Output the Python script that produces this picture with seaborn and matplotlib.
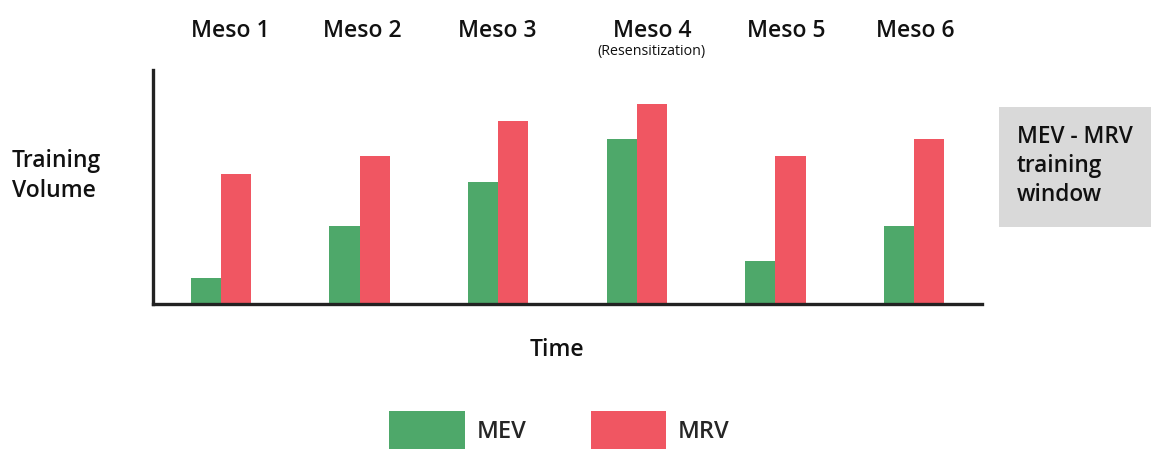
import matplotlib
matplotlib.use("Agg")
import matplotlib.pyplot as plt
from matplotlib.patches import Rectangle
import seaborn as sns
import pandas as pd

# Training volume per mesocycle (arbitrary units)
mesocycles = ["Meso 1", "Meso 2", "Meso 3", "Meso 4", "Meso 5", "Meso 6"]
mev = [1.5, 4.5, 7.0, 9.5, 2.5, 4.5]
mrv = [7.5, 8.5, 10.5, 11.5, 8.5, 9.5]
series_names = ["MEV", "MRV"]
subtitles = {"Meso 4": "(Resensitization)"}

colors = {"MEV": "#4ea86a", "MRV": "#f05662"}

df = pd.DataFrame({
    "meso": mesocycles * 2,
    "series": ["MEV"] * len(mesocycles) + ["MRV"] * len(mesocycles),
    "volume": mev + mrv,
})

sns.set_theme(style="white")
plt.rcParams["font.family"] = ["Open Sans", "DejaVu Sans"]
TXT = "#111111"

W, H = 1151, 449
fig = plt.figure(figsize=(W / 100, H / 100), dpi=100)
ax = fig.add_axes([153 / W, 1 - 304 / H, (982 - 153) / W, (304 - 70) / H])

sns.barplot(data=df, x="meso", y="volume", hue="series", hue_order=series_names,
            palette=colors, width=0.435, linewidth=0, saturation=1,
            errorbar=None, ax=ax)

ax.set_xlim(-0.49, 5.49)
ax.set_ylim(0, 13.45)
ax.set_xticks([])
ax.set_yticks([])
ax.set_xlabel("")
ax.set_ylabel("")
for side in ("top", "right"):
    ax.spines[side].set_visible(False)
for side in ("left", "bottom"):
    ax.spines[side].set_linewidth(2.4)
    ax.spines[side].set_color("#222222")

# mesocycle headers above the bars (offsets in points)
nudge_pts = [6.5, 2, -0.7, 10.8, 8, 0.7]
for i, (name, dx) in enumerate(zip(mesocycles, nudge_pts)):
    ax.annotate(name, xy=(i, 1), xycoords=("data", "axes fraction"),
                xytext=(dx, 28), textcoords="offset points",
                ha="center", va="center", fontsize=16.5,
                fontweight="semibold", color=TXT, annotation_clip=False)
    if name in subtitles:
        ax.annotate(subtitles[name], xy=(i, 1), xycoords=("data", "axes fraction"),
                    xytext=(dx, 13.5), textcoords="offset points",
                    ha="center", va="center", fontsize=10.3,
                    color=TXT, annotation_clip=False)

# axis titles
fig.text(12 / W, 1 - 176 / H, "Training\nVolume", ha="left", va="center",
         fontsize=16.5, fontweight="semibold", color=TXT, linespacing=1.3)
fig.text(557 / W, 1 - 350 / H, "Time", ha="center", va="center",
         fontsize=16.5, fontweight="semibold", color=TXT)

# side note box
fig.add_artist(Rectangle((999 / W, 1 - 227 / H), (W - 999) / W, 120 / H,
                         transform=fig.transFigure, facecolor="#d9d9d9",
                         edgecolor="none"))
fig.text(1017 / W, 1 - 166 / H, "MEV - MRV\ntraining\nwindow", ha="left",
         va="center", fontsize=16.3, fontweight="semibold", color=TXT,
         linespacing=1.3)

# legend along the bottom edge
handles, labels = ax.get_legend_handles_labels()
ax.legend_.remove()
fig.legend(handles, labels, loc="upper left",
           bbox_to_anchor=(389 / W, 1 - 411 / H), ncol=2, frameon=False,
           handlelength=3.2, handleheight=2.2,
           handletextpad=0.5, columnspacing=2.73, borderpad=0,
           borderaxespad=0, prop={"weight": "semibold", "size": 17})

fig.savefig("out.png", dpi=100)
